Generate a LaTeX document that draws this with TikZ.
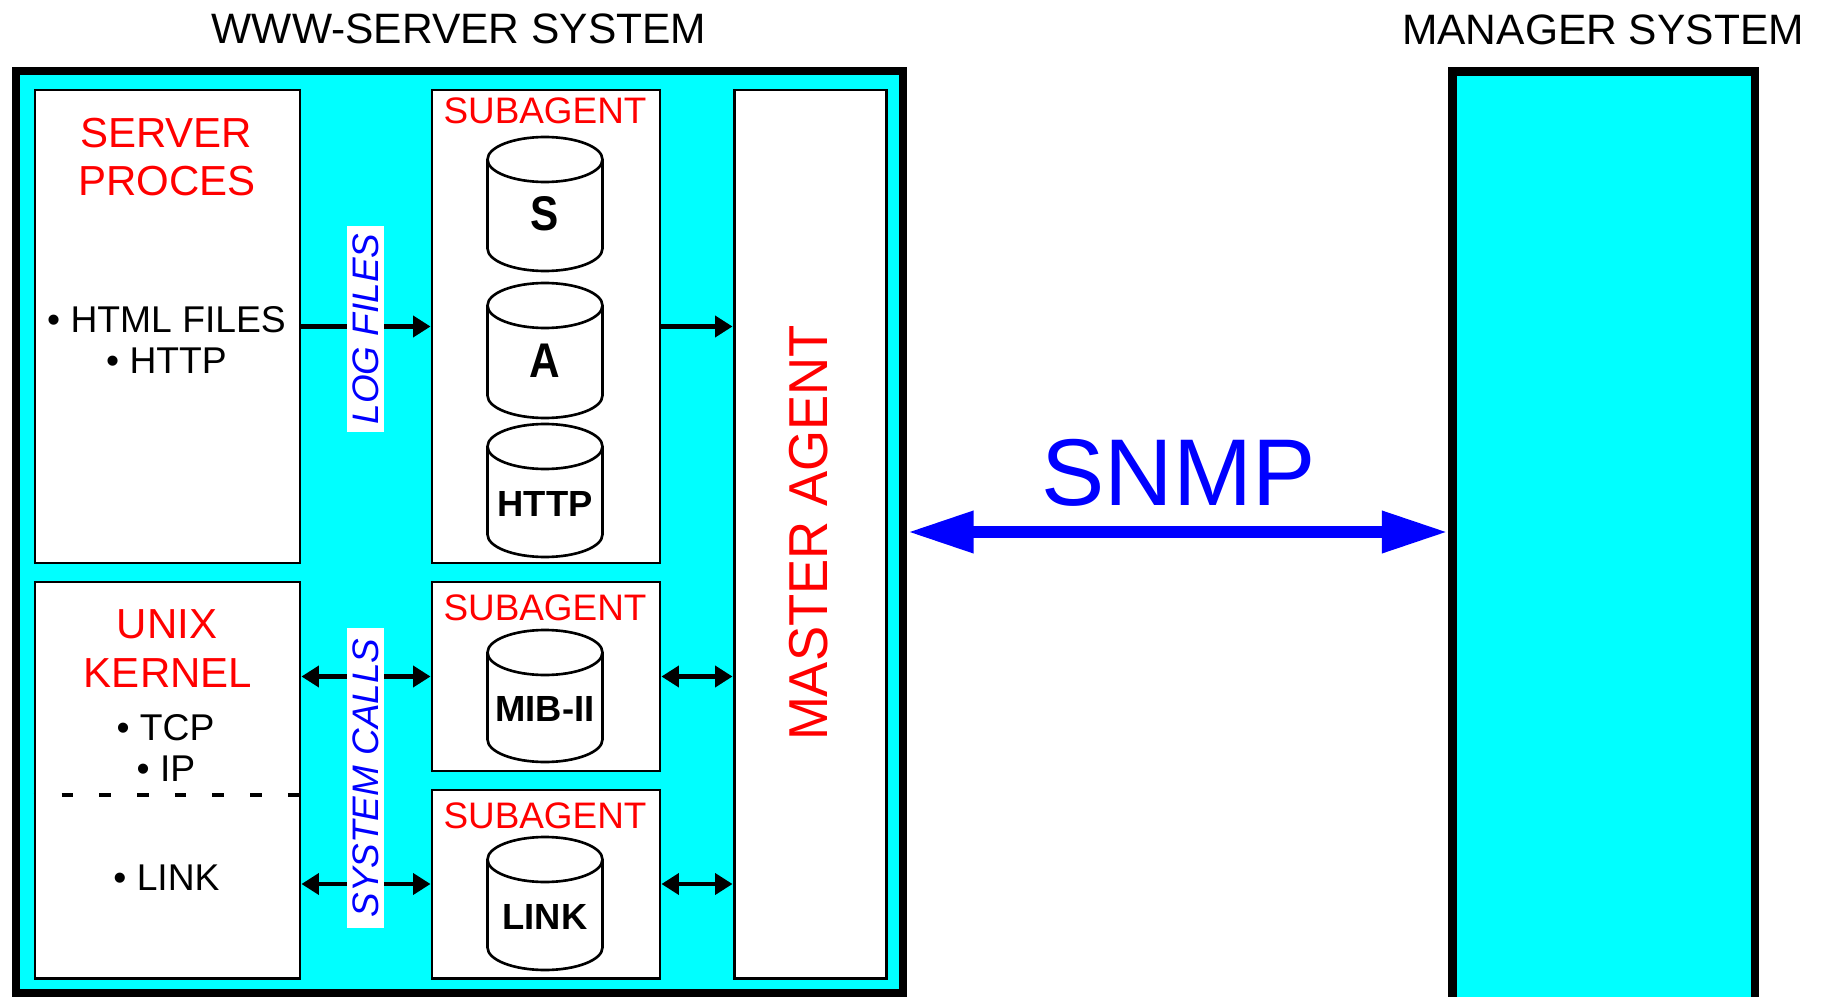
\documentclass[tikz,border=0pt]{standalone}
\usepackage{fontspec}
\setmainfont{Liberation Sans}
\usetikzlibrary{arrows.meta,fit}
\definecolor{boxcyan}{RGB}{0,255,255}
\definecolor{txtred}{RGB}{255,0,0}
\definecolor{txtblue}{RGB}{0,0,255}
\newcommand{\dbcyl}[3]{% center x, top y, bottom y (pixel units)
  \filldraw[cylline] (#1,#3-22.5) ellipse [x radius=1.15cm, y radius=0.45cm];
  \fill[white] (#1-57.5,#2+22.5) rectangle (#1+57.5,#3-22.5);
  \draw[cylline] (#1-57.5,#2+22.5) -- (#1-57.5,#3-22.5) (#1+57.5,#2+22.5) -- (#1+57.5,#3-22.5);
  \filldraw[cylline] (#1,#2+22.5) ellipse [x radius=1.15cm, y radius=0.45cm];
}
\tikzset{
  sysbox/.style={draw, line width=4.7pt, fill=boxcyan, inner sep=0pt},
  innerbox/.style={draw, line width=1.7pt, fill=white, inner sep=0pt},
  cylline/.style={draw=black, fill=white, line width=1.5pt},
  systitle/.style={anchor=base, inner sep=0pt, font=\fontsize{24.2pt}{29pt}\selectfont},
  hdr/.style={anchor=base, inner sep=0pt, text=txtred, font=\fontsize{23.9pt}{28pt}\selectfont},
  subhdr/.style={anchor=base, inner sep=0pt, text=txtred, font=\fontsize{21pt}{25pt}\selectfont},
  items/.style={anchor=base, inner sep=0pt, font=\fontsize{21.2pt}{25pt}\selectfont},
  cyllabel/.style={anchor=base, inner sep=0pt, font=\bfseries\fontsize{20.7pt}{25pt}\selectfont},
  biglabel/.style={anchor=base, inner sep=0pt, font=\bfseries\fontsize{24.1pt}{29pt}\selectfont},
  vlabel/.style={rotate=90, fill=white, text=txtblue, inner ysep=0.1cm, font=\itshape\fontsize{21pt}{25pt}\selectfont},
  flow/.style={line width=2.3pt, -{Triangle[length=0.35cm,width=0.42cm]}},
  flowboth/.style={line width=2.3pt, {Triangle[length=0.35cm,width=0.42cm]}-{Triangle[length=0.35cm,width=0.42cm]}},
  snmparrow/.style={line width=7.2pt, draw=txtblue, {Triangle[length=1.33cm,width=0.78cm]}-{Triangle[length=1.33cm,width=0.78cm]}},
  kdash/.style={line width=2.2pt, dash pattern=on 0.234cm off 0.52cm, dash phase=0.19cm},
}
\begin{document}
\begin{tikzpicture}[x=0.02cm, y=-0.02cm]
\useasboundingbox (0,0) rectangle (1823,997);

% outer systems
\node[sysbox, fit={(16,71) (903,993)}] (www) {};
\node[sysbox, fit={(1452.5,71.5) (1755,1010)}] (manager) {};

% inner boxes
\node[innerbox, fit={(35,90) (300,563)}] (server) {};
\node[innerbox, fit={(432,90) (660,563)}] (sub1) {};
\node[innerbox, fit={(734,90) (886,978)}] (master) {};
\node[innerbox, fit={(35,582) (300,978)}] (kernel) {};
\node[innerbox, fit={(432,582) (660,771)}] (sub2) {};
\node[innerbox, fit={(432,790) (660,978)}] (sub3) {};

% titles
\node[systitle] (wwwtitle) at (459,44) {WWW-SERVER SYSTEM};
\node[systitle] (mgrtitle) at (1603,44.5) {MANAGER SYSTEM};

% headers
\node[hdr] (srv1) at (166,148) {SERVER};
\node[hdr] (srv2) at (167,195) {PROCES};
\node[hdr] (unx1) at (167,638) {UNIX};
\node[hdr] (unx2) at (168,687) {KERNEL};

% items
\node[items] (it1) at (166.5,332) {• HTML FILES};
\node[items] (it2) at (166.5,373) {• HTTP};
\node[items] (it3) at (165.5,740) {• TCP};
\node[items] (it4) at (166,781.5) {• IP};
\node[items] (it5) at (166.5,890) {• LINK};

% dashed divider
\coordinate (dashy) at (0,795);
\draw[kdash] (kernel.west |- dashy) -- (kernel.east |- dashy);

% subagent headers
\node[subhdr] (sa1) at (545,124) {SUBAGENT};
\node[subhdr] (sa2) at (545,620) {SUBAGENT};
\node[subhdr] (sa3) at (545,828) {SUBAGENT};

% databases
\dbcyl{545}{137}{271}
\dbcyl{545}{283}{418}
\dbcyl{545}{424}{557}
\dbcyl{545}{630}{762}
\dbcyl{545}{837}{970}
\node[biglabel] (dbs) at (545,230) {\scalebox{1}[1.15]{S}};
\node[biglabel] (dba) at (545,377) {\scalebox{1}[1.15]{A}};
\node[cyllabel] (dbhttp) at (545,516) {HTTP};
\node[cyllabel] (dbmib) at (545,721.5) {MIB-II};
\node[cyllabel] (dblink) at (545,929) {LINK};

% master agent label
\node[rotate=90, inner sep=0pt, text=txtred, font=\fontsize{30pt}{36pt}\selectfont] (mlabel) at (809,533) {\scalebox{1}[1.04]{MASTER AGENT}};

% connectors
\draw[flow] (server) -- (sub1);
\draw[flow] (sub1.east) -- (sub1.east -| master.west);
\draw[flowboth] (sub2.west -| kernel.east) -- (sub2.west);
\draw[flowboth] (sub2.east) -- (sub2.east -| master.west);
\draw[flowboth] (sub3.west -| kernel.east) -- (sub3.west);
\draw[flowboth] (sub3.east) -- (sub3.east -| master.west);

% vertical labels
\node[vlabel, inner xsep=0.154cm] (logl) at (365.5,329) {LOG FILES};
\node[vlabel, inner xsep=0.22cm] (sysl) at (365.5,778) {SYSTEM CALLS};

% SNMP
\draw[snmparrow] (www.east) -- (manager.west |- www.east);
\node[anchor=base, inner sep=0pt, text=txtblue, font=\fontsize{54pt}{60pt}\selectfont] (snmp) at (1178.7,505) {SNMP};
\end{tikzpicture}
\end{document}
